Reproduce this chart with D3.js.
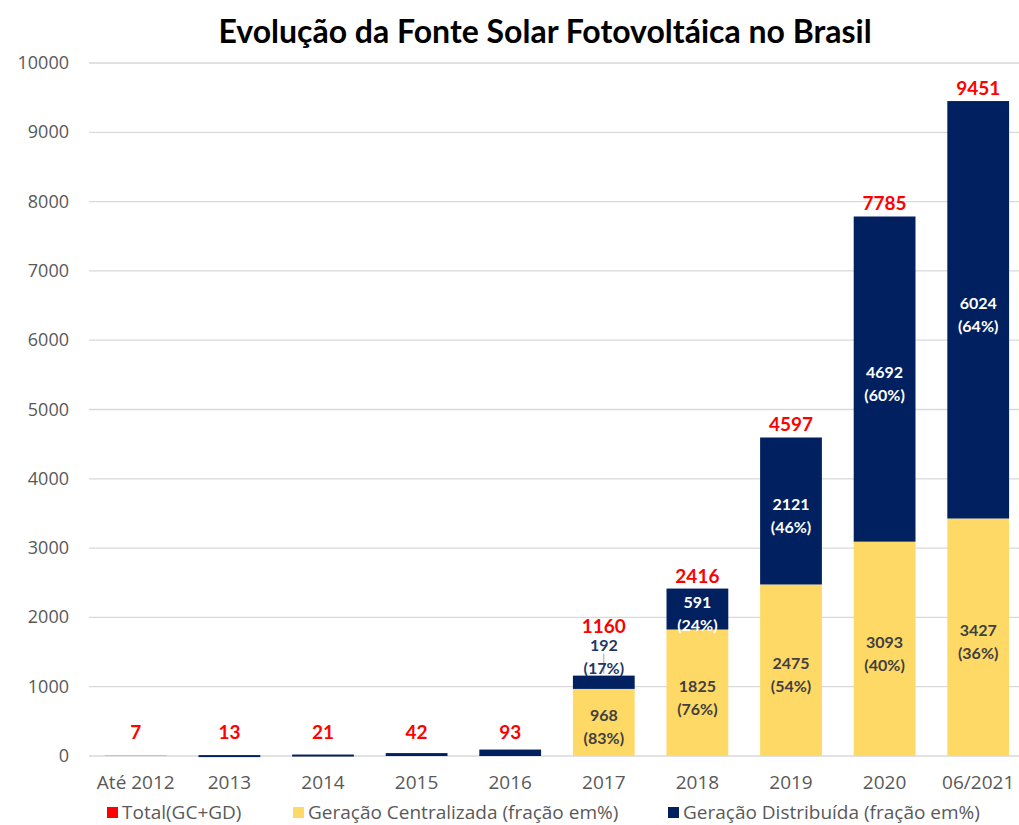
<!DOCTYPE html>
<html><head><meta charset="utf-8">
<script src="https://cdn.jsdelivr.net/npm/d3@7"></script>
<style>body{margin:0;background:#fff}svg{display:block}</style>
</head><body><svg id="c" width="1019" height="825"></svg>
<script>
const categories = ["Até 2012","2013","2014","2015","2016","2017","2018","2019","2020","06/2021"];
const gc = [5,0,0,0,0,968,1825,2475,3093,3427];
const gd = [2,13,21,42,93,192,591,2121,4692,6024];
const totals = [7,13,21,42,93,1160,2416,4597,7785,9451];
const gcPct = [null,null,null,null,null,83,76,54,40,36];
const gdPct = [null,null,null,null,null,17,24,46,60,64];
const yTicks = [0,1000,2000,3000,4000,5000,6000,7000,8000,9000,10000];
const title = "Evolução da Fonte Solar Fotovoltáica no Brasil";
const legendItems = [
  {label:"Total(GC+GD)", color:"#FF0000"},
  {label:"Geração Centralizada (fração em%)", color:"#FFD966"},
  {label:"Geração Distribuída (fração em%)", color:"#002060"}
];

const FONT = "Lato, 'Open Sans', sans-serif";
const AXF = "'Open Sans', Lato, sans-serif";
const svg = d3.select("#c");
const x = d3.scaleBand().domain(categories).range([89,1025]).paddingInner(0.34).paddingOuter(0.17);
const y = d3.scaleLinear().domain([0,10000]).range([756,63]);

svg.append("text").attr("x",545).attr("y",43).attr("text-anchor","middle")
  .attr("font-family",FONT).attr("font-weight","bold").attr("font-size",32).attr("fill","#000").text(title);

svg.append("g").selectAll("line").data(yTicks).join("line")
  .attr("x1",89).attr("x2",1019).attr("y1",d=>y(d)).attr("y2",d=>y(d))
  .attr("stroke","#d9d9d9").attr("stroke-width",1.3);
svg.append("g").selectAll("text").data(yTicks).join("text")
  .attr("x",69).attr("y",d=>y(d)+6).attr("text-anchor","end")
  .attr("font-family",AXF).attr("font-size",18).attr("fill","#595959").text(d=>d);

const g = svg.append("g");
g.selectAll("rect.gc").data(categories).join("rect").attr("class","gc")
  .attr("x",d=>x(d)).attr("width",x.bandwidth())
  .attr("y",(d,i)=>y(gc[i])).attr("height",(d,i)=>y(0)-y(gc[i])).attr("fill","#FFD966");
g.selectAll("rect.gd").data(categories).join("rect").attr("class","gd")
  .attr("x",d=>x(d)).attr("width",x.bandwidth())
  .attr("y",(d,i)=>y(gc[i]+gd[i])).attr("height",(d,i)=>Math.max(y(gc[i])-y(gc[i]+gd[i]), i>0?2:0)).attr("fill","#002060");

g.selectAll("text.tot").data(categories).join("text")
  .attr("x",d=>x(d)+x.bandwidth()/2)
  .attr("y",(d,i)=> i<5 ? y(0)-17 : (i===5 ? y(totals[i])-43 : y(totals[i])-6))
  .attr("text-anchor","middle").attr("font-family",FONT).attr("font-weight","bold")
  .attr("font-size",19).attr("fill","#FF0000").text((d,i)=>totals[i]);

function twoLine(sel, cx, y1, v, p, color){
  const t = sel.append("text").attr("text-anchor","middle").attr("font-family",FONT)
    .attr("font-weight","bold").attr("font-size",16).attr("fill",color);
  t.append("tspan").attr("x",cx).attr("y",y1).text(v);
  t.append("tspan").attr("x",cx).attr("y",y1+23).text("("+p+"%)");
}
categories.forEach((c,i)=>{
  if(gcPct[i]==null) return;
  const cx = x(c)+x.bandwidth()/2;
  twoLine(g, cx, (y(0)+y(gc[i]))/2-1, gc[i], gcPct[i], "#404040");
  if(i===5){
    g.append("line").attr("x1",cx).attr("x2",cx).attr("y1",y(gc[i]+gd[i])-2).attr("y2",y(totals[i])-22)
      .attr("stroke","#a6a6a6").attr("stroke-width",1);
    twoLine(g, cx, y(totals[i])-25, gd[i], gdPct[i], "#1f3864");
  } else {
    twoLine(g, cx, (y(gc[i])+y(gc[i]+gd[i]))/2-1, gd[i], gdPct[i], "#ffffff");
  }
});

svg.append("g").selectAll("text").data(categories).join("text")
  .attr("x",d=>x(d)+x.bandwidth()/2).attr("y",789).attr("text-anchor","middle")
  .attr("font-family",AXF).attr("font-size",19).attr("fill","#595959").text(d=>d);

const lx = [107,293,668];
const lg = svg.append("g");
legendItems.forEach((it,i)=>{
  lg.append("rect").attr("x",lx[i]).attr("y",807).attr("width",11).attr("height",11).attr("fill",it.color);
  lg.append("text").attr("x",lx[i]+15).attr("y",819).attr("font-family",AXF).attr("font-size",19)
    .attr("fill","#595959").text(it.label);
});
</script></body></html>
